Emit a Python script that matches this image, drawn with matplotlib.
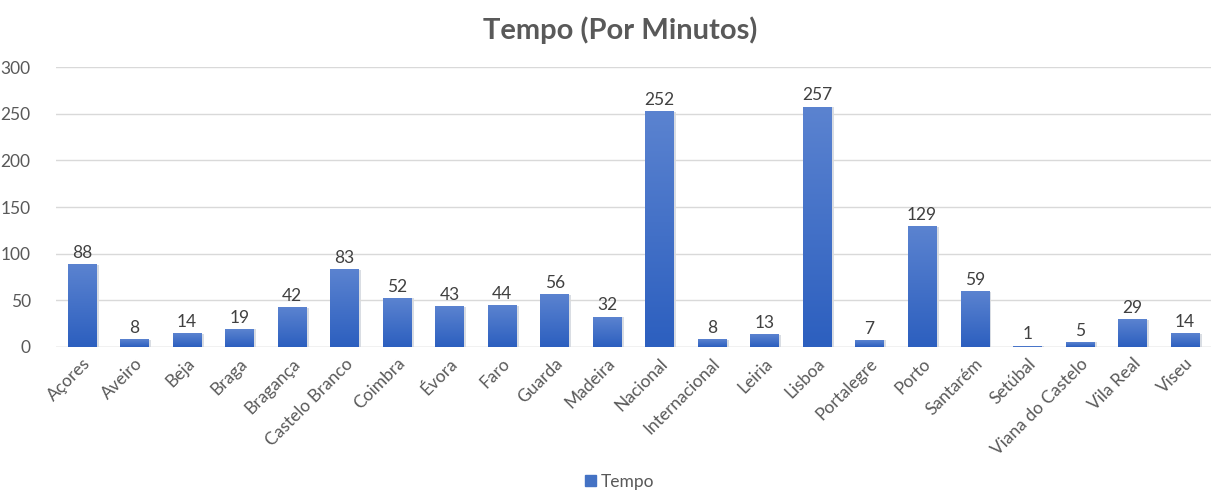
import numpy as np
import matplotlib.pyplot as plt
from matplotlib.colors import LinearSegmentedColormap
from matplotlib.patches import Patch

regioes = ["Açores", "Aveiro", "Beja", "Braga", "Bragança", "Castelo Branco",
           "Coimbra", "Évora", "Faro", "Guarda", "Madeira", "Nacional",
           "Internacional", "Leiria", "Lisboa", "Portalegre", "Porto",
           "Santarém", "Setúbal", "Viana do Castelo", "Vila Real", "Viseu"]
tempo = [88, 8, 14, 19, 42, 83, 52, 43, 44, 56, 32, 252, 8, 13, 257, 7,
         129, 59, 1, 5, 29, 14]

plt.rcParams['font.family'] = ['Lato', 'DejaVu Sans']
cinza = '#595959'

fig = plt.figure(figsize=(12.11, 4.91), dpi=100)
ax = fig.add_axes([0.046, 0.2933, 0.954, 0.5702])

x = np.arange(len(regioes))
bars = ax.bar(x, tempo, width=0.54, color='#4472c4', zorder=2)

# gradient fill, lighter at top
cmap = LinearSegmentedColormap.from_list('g', ['#2c5fbf', '#5b83d0'])
grad = np.linspace(0, 1, 256).reshape(-1, 1)
for b in bars:
    x0, w, h = b.get_x(), b.get_width(), b.get_height()
    if h <= 0:
        continue
    # soft shadow
    ax.bar(x0 + w / 2 + 0.03, h, width=w + 0.04, color='#c9cfd8',
           zorder=1.5, alpha=0.7)
    ax.imshow(grad, extent=(x0, x0 + w, 0, h), origin='lower', cmap=cmap,
              aspect='auto', zorder=3)
    b.set_visible(False)
    ax.text(x0 + w / 2, h + 4, str(h), ha='center', va='bottom',
            fontsize=12.5, color='#404040')

ax.set_xlim(-0.5, len(regioes) - 0.5)
ax.set_ylim(0, 300)
ax.set_yticks(range(0, 301, 50))
ax.set_xticks(x)
ax.set_xticklabels(regioes, rotation=45, ha='right', rotation_mode='anchor',
                   fontsize=12.5, color=cinza)
ax.tick_params(axis='y', labelsize=12.5, labelcolor=cinza, length=0, pad=18)
ax.tick_params(axis='x', length=0, pad=6)
ax.grid(axis='y', color='#d9d9d9', linewidth=1, zorder=0)
for s in ax.spines.values():
    s.set_visible(False)
ax.axhline(0, color='#d9d9d9', linewidth=1, zorder=1)

fig.text(0.512, 0.938, 'Tempo (Por Minutos)', ha='center', va='center',
         fontsize=21, fontweight='bold', color=cinza)
fig.legend(handles=[Patch(color='#4472c4', label='Tempo')], loc='lower center',
           bbox_to_anchor=(0.512, -0.03), frameon=False, fontsize=12.5,
           handlelength=0.6, handleheight=0.6, handletextpad=0.3,
           labelcolor=cinza)

fig.savefig('out.png', dpi=100)
